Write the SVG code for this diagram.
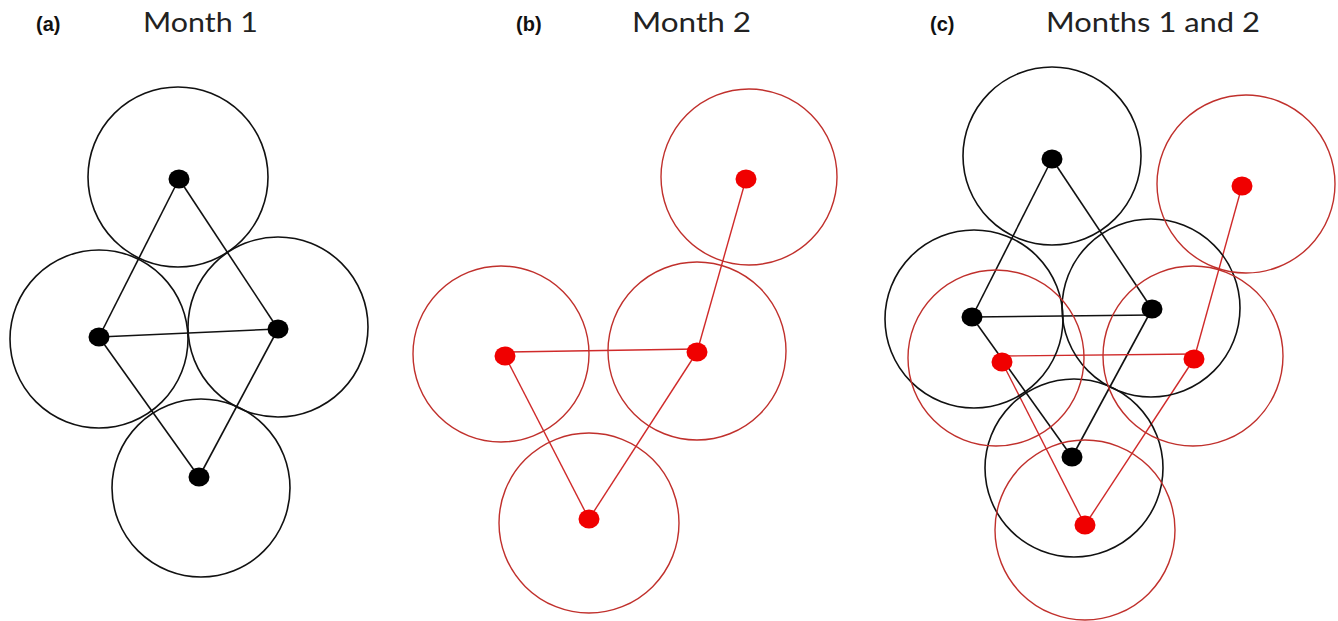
<svg xmlns="http://www.w3.org/2000/svg" width="1338" height="621" viewBox="0 0 1338 621">
<style>
.lbl{font-family:"Liberation Sans",Arial,sans-serif;font-weight:bold;font-size:20px;fill:#111}
.ttl{font-family:Lato,"Open Sans",sans-serif;font-size:27px;fill:#222}
.bc{fill:none;stroke:#111;stroke-width:1.6}
.rc{fill:none;stroke:#c0302c;stroke-width:1.4}
.bd{fill:#000}
.rd{fill:#f00000}
.bl{stroke:#111;stroke-width:1.6;fill:none}
.rl{stroke:#d02a2a;stroke-width:1.4;fill:none}
</style>
<rect width="1338" height="621" fill="#fff"/>
<g id="titles">
<text class="lbl" x="36" y="31">(a)</text>
<text class="ttl" x="143" y="32" textLength="115" lengthAdjust="spacingAndGlyphs">Month 1</text>
<text class="lbl" x="516" y="31">(b)</text>
<text class="ttl" x="632" y="32" textLength="119" lengthAdjust="spacingAndGlyphs">Month 2</text>
<text class="lbl" x="930" y="31">(c)</text>
<text class="ttl" x="1046" y="32" textLength="214" lengthAdjust="spacingAndGlyphs">Months 1 and 2</text>
</g>
<g id="connectors">
<g id="conn-a">
<line class="bl" x1="179" y1="179" x2="99" y2="337"/>
<line class="bl" x1="179" y1="179" x2="278" y2="329"/>
<line class="bl" x1="99" y1="337" x2="278" y2="329"/>
<line class="bl" x1="99" y1="337" x2="199" y2="477"/>
<line class="bl" x1="278" y1="329" x2="199" y2="477"/>
</g>
<g id="conn-b">
<line class="rl" x1="746" y1="179" x2="697" y2="352"/>
<line class="rl" x1="505" y1="352" x2="697" y2="349"/>
<line class="rl" x1="505" y1="356" x2="589" y2="519"/>
<line class="rl" x1="697" y1="352" x2="589" y2="519"/>
</g>
<g id="conn-c">
<line class="bl" x1="1052" y1="159" x2="972" y2="317"/>
<line class="bl" x1="1052" y1="159" x2="1152" y2="309"/>
<line class="bl" x1="972" y1="317" x2="1152" y2="315"/>
<line class="bl" x1="972" y1="317" x2="1072" y2="457"/>
<line class="bl" x1="1152" y1="309" x2="1072" y2="457"/>
<line class="rl" x1="1242" y1="186" x2="1194" y2="359"/>
<line class="rl" x1="1002" y1="356" x2="1194" y2="354"/>
<line class="rl" x1="1002" y1="362" x2="1085" y2="525"/>
<line class="rl" x1="1194" y1="359" x2="1085" y2="525"/>
</g>
</g>
<g id="a-n1"><circle class="bc" cx="178" cy="177" r="90"/><ellipse class="bd" cx="179" cy="179" rx="10.5" ry="9.5"/></g>
<g id="a-n2"><circle class="bc" cx="99" cy="339" r="89"/><ellipse class="bd" cx="99" cy="337" rx="10.5" ry="9.5"/></g>
<g id="a-n3"><circle class="bc" cx="278" cy="327" r="90"/><ellipse class="bd" cx="278" cy="329" rx="10.5" ry="9.5"/></g>
<g id="a-n4"><circle class="bc" cx="201" cy="488" r="89"/><ellipse class="bd" cx="199" cy="477" rx="10.5" ry="9.5"/></g>
<g id="b-n1"><circle class="rc" cx="749" cy="177" r="88"/><ellipse class="rd" cx="746" cy="179" rx="10.5" ry="9.5"/></g>
<g id="b-n2"><circle class="rc" cx="501" cy="354" r="88"/><ellipse class="rd" cx="505" cy="356" rx="10.5" ry="9.5"/></g>
<g id="b-n3"><circle class="rc" cx="697" cy="351" r="89"/><ellipse class="rd" cx="697" cy="352" rx="10.5" ry="9.5"/></g>
<g id="b-n4"><circle class="rc" cx="589" cy="523" r="90"/><ellipse class="rd" cx="589" cy="519" rx="10.5" ry="9.5"/></g>
<g id="c-b1"><circle class="bc" cx="1052" cy="156" r="89"/><ellipse class="bd" cx="1052" cy="159" rx="10.5" ry="9.5"/></g>
<g id="c-b2"><circle class="bc" cx="974" cy="319" r="89"/><ellipse class="bd" cx="972" cy="317" rx="10.5" ry="9.5"/></g>
<g id="c-b3"><circle class="bc" cx="1151" cy="308" r="89"/><ellipse class="bd" cx="1152" cy="309" rx="10.5" ry="9.5"/></g>
<g id="c-b4"><circle class="bc" cx="1074" cy="468" r="89"/><ellipse class="bd" cx="1072" cy="457" rx="10.5" ry="9.5"/></g>
<g id="c-r1"><circle class="rc" cx="1246" cy="184" r="89"/><ellipse class="rd" cx="1242" cy="186" rx="10.5" ry="9.5"/></g>
<g id="c-r2"><circle class="rc" cx="996" cy="358" r="88"/><ellipse class="rd" cx="1002" cy="362" rx="10.5" ry="9.5"/></g>
<g id="c-r3"><circle class="rc" cx="1193" cy="356" r="90"/><ellipse class="rd" cx="1194" cy="359" rx="10.5" ry="9.5"/></g>
<g id="c-r4"><circle class="rc" cx="1085" cy="530" r="90"/><ellipse class="rd" cx="1085" cy="525" rx="10.5" ry="9.5"/></g>
</svg>
